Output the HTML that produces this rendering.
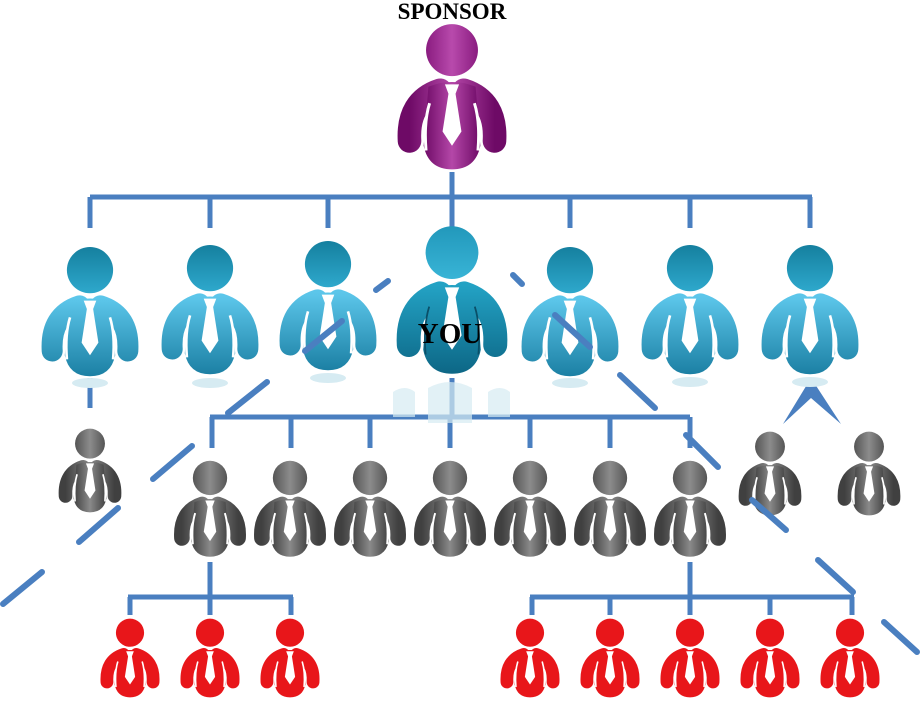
<!DOCTYPE html>
<html><head><meta charset="utf-8"><style>
html,body{margin:0;padding:0;background:#fff;}
svg{display:block;}
</style></head><body>
<svg width="922" height="705" viewBox="0 0 922 705" xmlns="http://www.w3.org/2000/svg">
<defs>
<linearGradient id="pu" x1="0" y1="0" x2="1" y2="0"><stop offset="0" stop-color="#6e0a66"/><stop offset="0.5" stop-color="#b447a8"/><stop offset="1" stop-color="#6e0a66"/></linearGradient>
<linearGradient id="puh" x1="0" y1="0" x2="1" y2="0"><stop offset="0" stop-color="#8a1c80"/><stop offset="0.5" stop-color="#b84aac"/><stop offset="1" stop-color="#8a1c80"/></linearGradient>
<linearGradient id="gr" x1="0" y1="0" x2="1" y2="0"><stop offset="0" stop-color="#404040"/><stop offset="0.5" stop-color="#8a8a8a"/><stop offset="1" stop-color="#404040"/></linearGradient>
<linearGradient id="grh" x1="0" y1="0" x2="1" y2="0"><stop offset="0" stop-color="#555"/><stop offset="0.5" stop-color="#8c8c8c"/><stop offset="1" stop-color="#555"/></linearGradient>
<linearGradient id="bl" x1="0" y1="0" x2="0" y2="126" gradientUnits="userSpaceOnUse"><stop offset="0.4" stop-color="#5cc6ea"/><stop offset="1" stop-color="#1a7ea2"/></linearGradient>
<linearGradient id="blh" x1="0" y1="0" x2="0" y2="1"><stop offset="0" stop-color="#15809f"/><stop offset="1" stop-color="#2ea8cc"/></linearGradient>
<linearGradient id="yo" x1="0" y1="0" x2="0" y2="126" gradientUnits="userSpaceOnUse"><stop offset="0.4" stop-color="#23a2c4"/><stop offset="1" stop-color="#0c6584"/></linearGradient>
<linearGradient id="yoh" x1="0" y1="0" x2="0" y2="1"><stop offset="0" stop-color="#2298bb"/><stop offset="1" stop-color="#38b4d6"/></linearGradient>

<symbol id="mpu" viewBox="0 0 100 126" overflow="visible">
<circle fill="url(#puh)" cx="50" cy="23" r="22"/>
<path fill="none" stroke="url(#pu)" stroke-width="20" stroke-linecap="round" d="M14,100 Q12,66 40,57 M86,100 Q88,66 60,57"/>
<path fill="url(#pu)" d="M30,54 Q50,46 70,54 L74,104 Q70,124 50,124 Q30,124 26,104 Z"/>
<path d="M31,68 Q26,84 28,108 M69,68 Q74,84 72,108" fill="none" stroke="#fff" stroke-width="2.5"/>
<path d="M44,52 L56,52 L53,60 L58,92 L50,104 L42,92 L47,60 Z" fill="#fff"/>
</symbol>
<symbol id="mbl" viewBox="0 0 100 126" overflow="visible">
<circle fill="url(#blh)" cx="50" cy="23" r="22"/>
<path fill="none" stroke="url(#bl)" stroke-width="20" stroke-linecap="round" d="M14,100 Q12,66 40,57 M86,100 Q88,66 60,57"/>
<path fill="url(#bl)" d="M30,54 Q50,46 70,54 L74,104 Q70,124 50,124 Q30,124 26,104 Z"/>
<path d="M31,68 Q26,84 28,108 M69,68 Q74,84 72,108" fill="none" stroke="#fff" stroke-width="2.5"/>
<path d="M44,52 L56,52 L53,60 L58,92 L50,104 L42,92 L47,60 Z" fill="#fff"/>
</symbol>
<symbol id="myo" viewBox="0 0 100 126" overflow="visible">
<circle fill="url(#yoh)" cx="50" cy="23" r="22"/>
<path fill="none" stroke="url(#yo)" stroke-width="20" stroke-linecap="round" d="M14,100 Q12,66 40,57 M86,100 Q88,66 60,57"/>
<path fill="url(#yo)" d="M30,54 Q50,46 70,54 L74,104 Q70,124 50,124 Q30,124 26,104 Z"/>
<path d="M31,68 Q26,84 28,108 M69,68 Q74,84 72,108" fill="none" stroke="#0a4f68" stroke-width="1.5"/>
<path d="M44,52 L56,52 L53,60 L58,92 L50,104 L42,92 L47,60 Z" fill="#fff"/>
</symbol>
<symbol id="mgr" viewBox="0 0 100 126" overflow="visible">
<circle fill="url(#grh)" cx="50" cy="23" r="22"/>
<path fill="none" stroke="url(#gr)" stroke-width="20" stroke-linecap="round" d="M14,100 Q12,66 40,57 M86,100 Q88,66 60,57"/>
<path fill="url(#gr)" d="M30,54 Q50,46 70,54 L74,104 Q70,124 50,124 Q30,124 26,104 Z"/>
<path d="M31,68 Q26,84 28,108 M69,68 Q74,84 72,108" fill="none" stroke="#fff" stroke-width="2.5"/>
<path d="M44,52 L56,52 L53,60 L58,92 L50,104 L42,92 L47,60 Z" fill="#fff"/>
</symbol>
<symbol id="mre" viewBox="0 0 100 126" overflow="visible">
<circle fill="#e8161a" cx="50" cy="23" r="22"/>
<path fill="none" stroke="#e8161a" stroke-width="20" stroke-linecap="round" d="M14,100 Q12,66 40,57 M86,100 Q88,66 60,57"/>
<path fill="#e8161a" d="M30,54 Q50,46 70,54 L74,104 Q70,124 50,124 Q30,124 26,104 Z"/>
<path d="M31,68 Q26,84 28,108 M69,68 Q74,84 72,108" fill="none" stroke="#fff" stroke-width="2.5"/>
<path d="M44,52 L56,52 L53,60 L58,92 L50,104 L42,92 L47,60 Z" fill="#fff"/>
</symbol>
</defs>
<g stroke="#4a7fc0" stroke-width="5" fill="none">
<path d="M452,172 V232 M90,197 H812 M90,197 V228 M210,197 V228 M328,197 V228 M570,197 V228 M690,197 V228 M810,197 V228"/>
<path d="M452,378 V417 M210,417 H690 M212,417 V448 M291,417 V448 M370,417 V448 M450,417 V448 M530,417 V448 M610,417 V448 M690,417 V448"/>
<path d="M90,378 V408"/>
<path d="M210,562 V615 M128,597 H293 M130,597 V615 M291,597 V615 M690,562 V615 M530,597 H854 M532,597 V615 M610,597 V615 M770,597 V615 M852,597 V615"/>
</g>
<polygon points="811,378 841,424 811,398 783,424" fill="#4a7fc0"/>
<g stroke="#4a7fc0" stroke-width="6" stroke-linecap="round">
<line x1="376" y1="290" x2="388" y2="281"/><line x1="228" y1="413" x2="267" y2="382"/>
<line x1="153" y1="479" x2="192" y2="446"/><line x1="3" y1="604" x2="42" y2="572"/>
<line x1="513" y1="275" x2="522" y2="284"/><line x1="620" y1="375" x2="655" y2="408"/>
<line x1="818" y1="560" x2="853" y2="592"/><line x1="884" y1="622" x2="917" y2="652"/>
</g>
<g fill="#d6ebf2">
<ellipse cx="90" cy="383" rx="18" ry="5"/><ellipse cx="210" cy="383" rx="18" ry="5"/><ellipse cx="328" cy="378" rx="18" ry="5"/><ellipse cx="570" cy="383" rx="18" ry="5"/><ellipse cx="690" cy="382" rx="18" ry="5"/><ellipse cx="810" cy="382" rx="18" ry="5"/>
<path d="M393,392 q12,-8 22,0 v25 h-22 Z M428,388 q22,-12 44,0 v35 h-44 Z M488,392 q12,-8 22,0 v25 h-22 Z" opacity="0.7"/>
</g>
<use href="#mpu" width="100" height="126" transform="translate(393,23) scale(1.18)"/>
<use href="#mbl" width="100" height="126" transform="translate(37.5,246) scale(1.05)"/>
<use href="#mbl" width="100" height="126" transform="translate(157.5,244) scale(1.05)"/>
<use href="#mbl" width="100" height="126" transform="translate(275.5,240) scale(1.05)"/>
<use href="#mbl" width="100" height="126" transform="translate(517.5,246) scale(1.05)"/>
<use href="#mbl" width="100" height="126" transform="translate(637.5,244) scale(1.05)"/>
<use href="#mbl" width="100" height="126" transform="translate(757.5,244) scale(1.05)"/>
<use href="#myo" width="100" height="126" transform="translate(392,225) scale(1.2)"/>
<use href="#mgr" width="100" height="126" transform="translate(171,460) scale(0.78)"/>
<use href="#mgr" width="100" height="126" transform="translate(251,460) scale(0.78)"/>
<use href="#mgr" width="100" height="126" transform="translate(331,460) scale(0.78)"/>
<use href="#mgr" width="100" height="126" transform="translate(411,460) scale(0.78)"/>
<use href="#mgr" width="100" height="126" transform="translate(491,460) scale(0.78)"/>
<use href="#mgr" width="100" height="126" transform="translate(571,460) scale(0.78)"/>
<use href="#mgr" width="100" height="126" transform="translate(651,460) scale(0.78)"/>
<use href="#mgr" width="100" height="126" transform="translate(56,428) scale(0.68)"/>
<use href="#mgr" width="100" height="126" transform="translate(736,431) scale(0.68)"/>
<use href="#mgr" width="100" height="126" transform="translate(835,431) scale(0.68)"/>
<use href="#mre" width="100" height="126" transform="translate(98,618) scale(0.64)"/>
<use href="#mre" width="100" height="126" transform="translate(178,618) scale(0.64)"/>
<use href="#mre" width="100" height="126" transform="translate(258,618) scale(0.64)"/>
<use href="#mre" width="100" height="126" transform="translate(498,618) scale(0.64)"/>
<use href="#mre" width="100" height="126" transform="translate(578,618) scale(0.64)"/>
<use href="#mre" width="100" height="126" transform="translate(658,618) scale(0.64)"/>
<use href="#mre" width="100" height="126" transform="translate(738,618) scale(0.64)"/>
<use href="#mre" width="100" height="126" transform="translate(818,618) scale(0.64)"/>
<g stroke="#4a7fc0" stroke-width="6" stroke-linecap="round">
<line x1="305" y1="351" x2="342" y2="321"/><line x1="555" y1="315" x2="590" y2="347"/><line x1="79" y1="542" x2="118" y2="508"/><line x1="752" y1="500" x2="786" y2="530"/><line x1="686" y1="435" x2="718" y2="467"/>
</g>
<text x="452" y="19" text-anchor="middle" font-family="Liberation Serif, serif" font-weight="bold" font-size="23">SPONSOR</text>
<text x="450" y="343" text-anchor="middle" font-family="Liberation Serif, serif" font-weight="bold" font-size="29">YOU</text>
</svg>
</body></html>
